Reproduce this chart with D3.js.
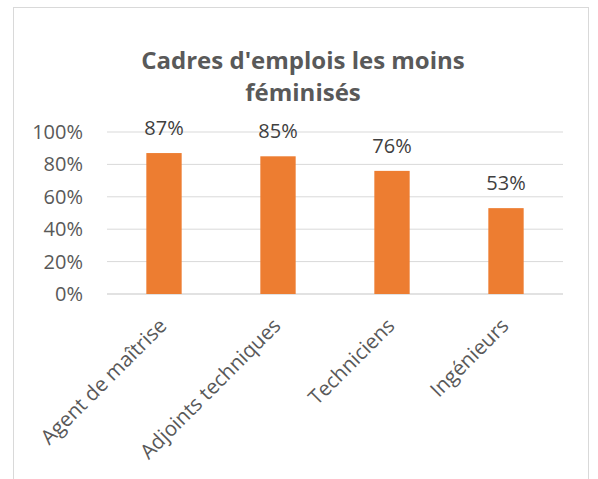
<!DOCTYPE html>
<html>
<head>
<meta charset="utf-8">
<script src="https://cdn.jsdelivr.net/npm/d3@7"></script>
<style>
  body { margin: 0; background: #fff; }
  text { font-family: "Open Sans", sans-serif; }
</style>
</head>
<body>
<script>
// donnees
var categories = ["Agent de maîtrise", "Adjoints techniques", "Techniciens", "Ingénieurs"];
var values = [0.87, 0.85, 0.76, 0.53];
var ticks = [0, 0.2, 0.4, 0.6, 0.8, 1];
var titleLines = ["Cadres d'emplois les moins", "féminisés"];

var w = 598, h = 479;
var pLeft = 107, pRight = 563, pTop = 132, pBottom = 294;

var svg = d3.select("body").append("svg")
  .attr("width", w)
  .attr("height", h);

// cadre
svg.append("rect")
  .attr("x", 13.5).attr("y", 7.5)
  .attr("width", 575).attr("height", 480)
  .attr("fill", "#fff")
  .attr("stroke", "#d9d9d9")
  .attr("stroke-width", 1);

// titre
var tx = 303;
svg.append("text")
  .attr("text-anchor", "middle")
  .attr("fill", "#595959")
  .attr("font-size", "24px")
  .attr("font-weight", "bold")
  .selectAll("tspan")
  .data(titleLines)
  .enter()
  .append("tspan")
  .attr("x", tx)
  .attr("y", function(d, i) { return 69 + i * 32; })
  .text(function(d) { return d; });

var x = d3.scaleBand()
  .domain(categories)
  .range([pLeft, pRight])
  .paddingInner(0.69)
  .paddingOuter(0.345);

var y = d3.scaleLinear()
  .domain([0, 1])
  .range([pBottom, pTop]);

// grille
svg.append("g")
  .selectAll("line")
  .data(ticks)
  .enter()
  .append("line")
  .attr("x1", pLeft).attr("x2", pRight)
  .attr("y1", function(d) { return y(d); })
  .attr("y2", function(d) { return y(d); })
  .attr("stroke", "#d9d9d9")
  .attr("stroke-width", function(d) { return d === 0 ? 1.5 : 1; });

// axe y
var yAxis = svg.append("g")
  .attr("transform", "translate(" + (pLeft - 24) + ",0)")
  .call(d3.axisLeft(y).tickValues(ticks).tickFormat(d3.format(".0%")).tickSize(0).tickPadding(0));
yAxis.select(".domain").remove();
yAxis.selectAll("text")
  .attr("fill", "#595959")
  .attr("font-size", "20px")
  .attr("font-family", "Open Sans, sans-serif");

// barres
svg.append("g")
  .selectAll("rect")
  .data(values)
  .enter()
  .append("rect")
  .attr("x", function(d, i) { return x(categories[i]); })
  .attr("y", function(d) { return y(d); })
  .attr("width", x.bandwidth())
  .attr("height", function(d) { return y(0) - y(d); })
  .attr("fill", "#ed7d31");

// etiquettes
svg.append("g")
  .selectAll("text")
  .data(values)
  .enter()
  .append("text")
  .attr("x", function(d, i) { return x(categories[i]) + x.bandwidth() / 2; })
  .attr("y", function(d) { return y(d) - 18; })
  .attr("text-anchor", "middle")
  .attr("fill", "#404040")
  .attr("font-size", "20px")
  .text(function(d) { return Math.round(d * 100) + "%"; });

// axe x
var xAxis = svg.append("g")
  .attr("transform", "translate(0," + pBottom + ")")
  .call(d3.axisBottom(x).tickSize(0).tickPadding(0));
xAxis.select(".domain").remove();
xAxis.selectAll("text")
  .attr("fill", "#595959")
  .attr("font-size", "20.5px")
  .attr("font-family", "Open Sans, sans-serif")
  .attr("text-anchor", "end")
  .attr("dy", null)
  .attr("y", 0)
  .attr("transform", "translate(4,33) rotate(-45)");
</script>
</body>
</html>
